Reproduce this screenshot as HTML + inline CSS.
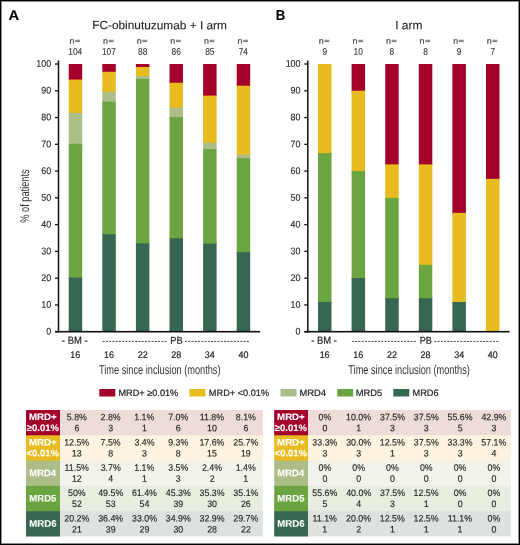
<!DOCTYPE html>
<html><head><meta charset="utf-8"><style>
html,body{margin:0;padding:0;background:#fff;}
body{width:520px;height:545px;position:relative;overflow:hidden;}
svg{position:absolute;left:0;top:0;font-family:"Liberation Sans",sans-serif;will-change:transform;}
.frame{position:absolute;left:0;top:0;width:520px;height:545px;box-sizing:border-box;border:1px solid #000;box-shadow:inset 0 0 0 1px rgba(0,0,0,0.45);}
</style></head><body>
<svg width="520" height="545" viewBox="0 0 520 545">
<rect x="75.15" y="39.80" width="4.90" height="0.90" fill="#666"/>
<rect x="75.15" y="41.20" width="4.90" height="0.90" fill="#666"/>
<rect x="68.70" y="64.00" width="13.50" height="16.53" fill="#A3002B"/>
<rect x="68.70" y="79.53" width="13.50" height="34.46" fill="#E8BC1E"/>
<rect x="68.70" y="112.99" width="13.50" height="31.79" fill="#ADBD88"/>
<rect x="68.70" y="143.77" width="13.50" height="134.85" fill="#6BA542"/>
<rect x="68.70" y="277.62" width="13.50" height="54.08" fill="#376651"/>
<rect x="108.75" y="39.80" width="4.90" height="0.90" fill="#666"/>
<rect x="108.75" y="41.20" width="4.90" height="0.90" fill="#666"/>
<rect x="102.30" y="64.00" width="13.50" height="8.76" fill="#A3002B"/>
<rect x="102.30" y="71.76" width="13.50" height="21.08" fill="#E8BC1E"/>
<rect x="102.30" y="91.84" width="13.50" height="10.90" fill="#ADBD88"/>
<rect x="102.30" y="101.75" width="13.50" height="133.51" fill="#6BA542"/>
<rect x="102.30" y="234.26" width="13.50" height="97.44" fill="#376651"/>
<rect x="142.35" y="39.80" width="4.90" height="0.90" fill="#666"/>
<rect x="142.35" y="41.20" width="4.90" height="0.90" fill="#666"/>
<rect x="135.90" y="64.00" width="13.50" height="3.94" fill="#A3002B"/>
<rect x="135.90" y="66.94" width="13.50" height="10.10" fill="#E8BC1E"/>
<rect x="135.90" y="76.05" width="13.50" height="3.94" fill="#ADBD88"/>
<rect x="135.90" y="78.99" width="13.50" height="165.37" fill="#6BA542"/>
<rect x="135.90" y="243.36" width="13.50" height="88.34" fill="#376651"/>
<rect x="175.95" y="39.80" width="4.90" height="0.90" fill="#666"/>
<rect x="175.95" y="41.20" width="4.90" height="0.90" fill="#666"/>
<rect x="169.50" y="64.00" width="13.50" height="19.74" fill="#A3002B"/>
<rect x="169.50" y="82.74" width="13.50" height="25.90" fill="#E8BC1E"/>
<rect x="169.50" y="107.64" width="13.50" height="10.37" fill="#ADBD88"/>
<rect x="169.50" y="117.00" width="13.50" height="122.27" fill="#6BA542"/>
<rect x="169.50" y="238.27" width="13.50" height="93.43" fill="#376651"/>
<rect x="209.55" y="39.80" width="4.90" height="0.90" fill="#666"/>
<rect x="209.55" y="41.20" width="4.90" height="0.90" fill="#666"/>
<rect x="203.10" y="64.00" width="13.50" height="32.59" fill="#A3002B"/>
<rect x="203.10" y="95.59" width="13.50" height="48.12" fill="#E8BC1E"/>
<rect x="203.10" y="142.70" width="13.50" height="7.42" fill="#ADBD88"/>
<rect x="203.10" y="149.13" width="13.50" height="95.50" fill="#6BA542"/>
<rect x="203.10" y="243.63" width="13.50" height="88.07" fill="#376651"/>
<rect x="243.15" y="39.80" width="4.90" height="0.90" fill="#666"/>
<rect x="243.15" y="41.20" width="4.90" height="0.90" fill="#666"/>
<rect x="236.70" y="64.00" width="13.50" height="22.68" fill="#A3002B"/>
<rect x="236.70" y="85.68" width="13.50" height="69.80" fill="#E8BC1E"/>
<rect x="236.70" y="154.48" width="13.50" height="4.75" fill="#ADBD88"/>
<rect x="236.70" y="158.23" width="13.50" height="94.96" fill="#6BA542"/>
<rect x="236.70" y="252.19" width="13.50" height="79.51" fill="#376651"/>
<rect x="57.75" y="60.50" width="1.50" height="272.00" fill="#111"/>
<rect x="55.00" y="330.90" width="205.20" height="1.60" fill="#111"/>
<rect x="55.00" y="331.05" width="3.00" height="1.30" fill="#111"/>
<rect x="55.00" y="304.28" width="3.00" height="1.30" fill="#111"/>
<rect x="55.00" y="277.51" width="3.00" height="1.30" fill="#111"/>
<rect x="55.00" y="250.74" width="3.00" height="1.30" fill="#111"/>
<rect x="55.00" y="223.97" width="3.00" height="1.30" fill="#111"/>
<rect x="55.00" y="197.20" width="3.00" height="1.30" fill="#111"/>
<rect x="55.00" y="170.43" width="3.00" height="1.30" fill="#111"/>
<rect x="55.00" y="143.66" width="3.00" height="1.30" fill="#111"/>
<rect x="55.00" y="116.89" width="3.00" height="1.30" fill="#111"/>
<rect x="55.00" y="90.12" width="3.00" height="1.30" fill="#111"/>
<rect x="55.00" y="63.35" width="3.00" height="1.30" fill="#111"/>
<rect x="102.60" y="340.90" width="2.00" height="1.10" fill="#555"/>
<rect x="184.95" y="340.90" width="2.00" height="1.10" fill="#555"/>
<rect x="105.86" y="340.90" width="2.00" height="1.10" fill="#555"/>
<rect x="188.21" y="340.90" width="2.00" height="1.10" fill="#555"/>
<rect x="109.12" y="340.90" width="2.00" height="1.10" fill="#555"/>
<rect x="191.47" y="340.90" width="2.00" height="1.10" fill="#555"/>
<rect x="112.38" y="340.90" width="2.00" height="1.10" fill="#555"/>
<rect x="194.73" y="340.90" width="2.00" height="1.10" fill="#555"/>
<rect x="115.64" y="340.90" width="2.00" height="1.10" fill="#555"/>
<rect x="197.99" y="340.90" width="2.00" height="1.10" fill="#555"/>
<rect x="118.90" y="340.90" width="2.00" height="1.10" fill="#555"/>
<rect x="201.25" y="340.90" width="2.00" height="1.10" fill="#555"/>
<rect x="122.16" y="340.90" width="2.00" height="1.10" fill="#555"/>
<rect x="204.51" y="340.90" width="2.00" height="1.10" fill="#555"/>
<rect x="125.42" y="340.90" width="2.00" height="1.10" fill="#555"/>
<rect x="207.77" y="340.90" width="2.00" height="1.10" fill="#555"/>
<rect x="128.68" y="340.90" width="2.00" height="1.10" fill="#555"/>
<rect x="211.03" y="340.90" width="2.00" height="1.10" fill="#555"/>
<rect x="131.94" y="340.90" width="2.00" height="1.10" fill="#555"/>
<rect x="214.29" y="340.90" width="2.00" height="1.10" fill="#555"/>
<rect x="135.20" y="340.90" width="2.00" height="1.10" fill="#555"/>
<rect x="217.55" y="340.90" width="2.00" height="1.10" fill="#555"/>
<rect x="138.46" y="340.90" width="2.00" height="1.10" fill="#555"/>
<rect x="220.81" y="340.90" width="2.00" height="1.10" fill="#555"/>
<rect x="141.72" y="340.90" width="2.00" height="1.10" fill="#555"/>
<rect x="224.07" y="340.90" width="2.00" height="1.10" fill="#555"/>
<rect x="144.98" y="340.90" width="2.00" height="1.10" fill="#555"/>
<rect x="227.33" y="340.90" width="2.00" height="1.10" fill="#555"/>
<rect x="148.24" y="340.90" width="2.00" height="1.10" fill="#555"/>
<rect x="230.59" y="340.90" width="2.00" height="1.10" fill="#555"/>
<rect x="151.50" y="340.90" width="2.00" height="1.10" fill="#555"/>
<rect x="233.85" y="340.90" width="2.00" height="1.10" fill="#555"/>
<rect x="154.76" y="340.90" width="2.00" height="1.10" fill="#555"/>
<rect x="237.11" y="340.90" width="2.00" height="1.10" fill="#555"/>
<rect x="158.02" y="340.90" width="2.00" height="1.10" fill="#555"/>
<rect x="240.37" y="340.90" width="2.00" height="1.10" fill="#555"/>
<rect x="161.28" y="340.90" width="2.00" height="1.10" fill="#555"/>
<rect x="243.63" y="340.90" width="2.00" height="1.10" fill="#555"/>
<rect x="164.54" y="340.90" width="2.00" height="1.10" fill="#555"/>
<rect x="246.89" y="340.90" width="2.00" height="1.10" fill="#555"/>
<rect x="324.45" y="39.80" width="4.90" height="0.90" fill="#666"/>
<rect x="324.45" y="41.20" width="4.90" height="0.90" fill="#666"/>
<rect x="318.00" y="64.00" width="13.50" height="90.14" fill="#E8BC1E"/>
<rect x="318.00" y="153.14" width="13.50" height="149.84" fill="#6BA542"/>
<rect x="318.00" y="301.99" width="13.50" height="29.71" fill="#376651"/>
<rect x="358.05" y="39.80" width="4.90" height="0.90" fill="#666"/>
<rect x="358.05" y="41.20" width="4.90" height="0.90" fill="#666"/>
<rect x="351.60" y="64.00" width="13.50" height="27.77" fill="#A3002B"/>
<rect x="351.60" y="90.77" width="13.50" height="81.31" fill="#E8BC1E"/>
<rect x="351.60" y="171.08" width="13.50" height="108.08" fill="#6BA542"/>
<rect x="351.60" y="278.16" width="13.50" height="53.54" fill="#376651"/>
<rect x="391.65" y="39.80" width="4.90" height="0.90" fill="#666"/>
<rect x="391.65" y="41.20" width="4.90" height="0.90" fill="#666"/>
<rect x="385.20" y="64.00" width="13.50" height="101.39" fill="#A3002B"/>
<rect x="385.20" y="164.39" width="13.50" height="34.46" fill="#E8BC1E"/>
<rect x="385.20" y="197.85" width="13.50" height="101.39" fill="#6BA542"/>
<rect x="385.20" y="298.24" width="13.50" height="33.46" fill="#376651"/>
<rect x="425.25" y="39.80" width="4.90" height="0.90" fill="#666"/>
<rect x="425.25" y="41.20" width="4.90" height="0.90" fill="#666"/>
<rect x="418.80" y="64.00" width="13.50" height="101.39" fill="#A3002B"/>
<rect x="418.80" y="164.39" width="13.50" height="101.39" fill="#E8BC1E"/>
<rect x="418.80" y="264.77" width="13.50" height="34.46" fill="#6BA542"/>
<rect x="418.80" y="298.24" width="13.50" height="33.46" fill="#376651"/>
<rect x="458.85" y="39.80" width="4.90" height="0.90" fill="#666"/>
<rect x="458.85" y="41.20" width="4.90" height="0.90" fill="#666"/>
<rect x="452.40" y="64.00" width="13.50" height="149.84" fill="#A3002B"/>
<rect x="452.40" y="212.84" width="13.50" height="90.14" fill="#E8BC1E"/>
<rect x="452.40" y="301.99" width="13.50" height="29.71" fill="#376651"/>
<rect x="492.45" y="39.80" width="4.90" height="0.90" fill="#666"/>
<rect x="492.45" y="41.20" width="4.90" height="0.90" fill="#666"/>
<rect x="486.00" y="64.00" width="13.50" height="115.84" fill="#A3002B"/>
<rect x="486.00" y="178.84" width="13.50" height="152.86" fill="#E8BC1E"/>
<rect x="307.05" y="60.50" width="1.50" height="272.00" fill="#111"/>
<rect x="304.30" y="330.90" width="205.20" height="1.60" fill="#111"/>
<rect x="304.30" y="331.05" width="3.00" height="1.30" fill="#111"/>
<rect x="304.30" y="304.28" width="3.00" height="1.30" fill="#111"/>
<rect x="304.30" y="277.51" width="3.00" height="1.30" fill="#111"/>
<rect x="304.30" y="250.74" width="3.00" height="1.30" fill="#111"/>
<rect x="304.30" y="223.97" width="3.00" height="1.30" fill="#111"/>
<rect x="304.30" y="197.20" width="3.00" height="1.30" fill="#111"/>
<rect x="304.30" y="170.43" width="3.00" height="1.30" fill="#111"/>
<rect x="304.30" y="143.66" width="3.00" height="1.30" fill="#111"/>
<rect x="304.30" y="116.89" width="3.00" height="1.30" fill="#111"/>
<rect x="304.30" y="90.12" width="3.00" height="1.30" fill="#111"/>
<rect x="304.30" y="63.35" width="3.00" height="1.30" fill="#111"/>
<rect x="351.90" y="340.90" width="2.00" height="1.10" fill="#555"/>
<rect x="434.25" y="340.90" width="2.00" height="1.10" fill="#555"/>
<rect x="355.16" y="340.90" width="2.00" height="1.10" fill="#555"/>
<rect x="437.51" y="340.90" width="2.00" height="1.10" fill="#555"/>
<rect x="358.42" y="340.90" width="2.00" height="1.10" fill="#555"/>
<rect x="440.77" y="340.90" width="2.00" height="1.10" fill="#555"/>
<rect x="361.68" y="340.90" width="2.00" height="1.10" fill="#555"/>
<rect x="444.03" y="340.90" width="2.00" height="1.10" fill="#555"/>
<rect x="364.94" y="340.90" width="2.00" height="1.10" fill="#555"/>
<rect x="447.29" y="340.90" width="2.00" height="1.10" fill="#555"/>
<rect x="368.20" y="340.90" width="2.00" height="1.10" fill="#555"/>
<rect x="450.55" y="340.90" width="2.00" height="1.10" fill="#555"/>
<rect x="371.46" y="340.90" width="2.00" height="1.10" fill="#555"/>
<rect x="453.81" y="340.90" width="2.00" height="1.10" fill="#555"/>
<rect x="374.72" y="340.90" width="2.00" height="1.10" fill="#555"/>
<rect x="457.07" y="340.90" width="2.00" height="1.10" fill="#555"/>
<rect x="377.98" y="340.90" width="2.00" height="1.10" fill="#555"/>
<rect x="460.33" y="340.90" width="2.00" height="1.10" fill="#555"/>
<rect x="381.24" y="340.90" width="2.00" height="1.10" fill="#555"/>
<rect x="463.59" y="340.90" width="2.00" height="1.10" fill="#555"/>
<rect x="384.50" y="340.90" width="2.00" height="1.10" fill="#555"/>
<rect x="466.85" y="340.90" width="2.00" height="1.10" fill="#555"/>
<rect x="387.76" y="340.90" width="2.00" height="1.10" fill="#555"/>
<rect x="470.11" y="340.90" width="2.00" height="1.10" fill="#555"/>
<rect x="391.02" y="340.90" width="2.00" height="1.10" fill="#555"/>
<rect x="473.37" y="340.90" width="2.00" height="1.10" fill="#555"/>
<rect x="394.28" y="340.90" width="2.00" height="1.10" fill="#555"/>
<rect x="476.63" y="340.90" width="2.00" height="1.10" fill="#555"/>
<rect x="397.54" y="340.90" width="2.00" height="1.10" fill="#555"/>
<rect x="479.89" y="340.90" width="2.00" height="1.10" fill="#555"/>
<rect x="400.80" y="340.90" width="2.00" height="1.10" fill="#555"/>
<rect x="483.15" y="340.90" width="2.00" height="1.10" fill="#555"/>
<rect x="404.06" y="340.90" width="2.00" height="1.10" fill="#555"/>
<rect x="486.41" y="340.90" width="2.00" height="1.10" fill="#555"/>
<rect x="407.32" y="340.90" width="2.00" height="1.10" fill="#555"/>
<rect x="489.67" y="340.90" width="2.00" height="1.10" fill="#555"/>
<rect x="410.58" y="340.90" width="2.00" height="1.10" fill="#555"/>
<rect x="492.93" y="340.90" width="2.00" height="1.10" fill="#555"/>
<rect x="413.84" y="340.90" width="2.00" height="1.10" fill="#555"/>
<rect x="496.19" y="340.90" width="2.00" height="1.10" fill="#555"/>
<rect x="99.30" y="389.00" width="16.00" height="7.50" fill="#A3002B"/>
<rect x="189.40" y="389.00" width="16.00" height="7.50" fill="#E8BC1E"/>
<rect x="280.50" y="389.00" width="16.00" height="7.50" fill="#ADBD88"/>
<rect x="337.20" y="389.00" width="16.00" height="7.50" fill="#6BA542"/>
<rect x="393.30" y="389.00" width="16.00" height="7.50" fill="#376651"/>
<rect x="26.00" y="410.00" width="34.00" height="26.30" fill="#A3002B"/>
<rect x="60.00" y="410.00" width="202.80" height="26.30" fill="#EDDCD7"/>
<rect x="26.00" y="435.30" width="34.00" height="26.30" fill="#E8BC1E"/>
<rect x="60.00" y="435.30" width="202.80" height="26.30" fill="#FCF4E0"/>
<rect x="26.00" y="460.60" width="34.00" height="26.30" fill="#ADBD88"/>
<rect x="60.00" y="460.60" width="202.80" height="26.30" fill="#F2F3EB"/>
<rect x="26.00" y="485.90" width="34.00" height="26.30" fill="#6BA542"/>
<rect x="60.00" y="485.90" width="202.80" height="26.30" fill="#E7EEE0"/>
<rect x="26.00" y="511.20" width="34.00" height="25.30" fill="#376651"/>
<rect x="60.00" y="511.20" width="202.80" height="25.30" fill="#DDE2DE"/>
<rect x="274.20" y="410.00" width="33.80" height="26.30" fill="#A3002B"/>
<rect x="308.00" y="410.00" width="202.80" height="26.30" fill="#EDDCD7"/>
<rect x="274.20" y="435.30" width="33.80" height="26.30" fill="#E8BC1E"/>
<rect x="308.00" y="435.30" width="202.80" height="26.30" fill="#FCF4E0"/>
<rect x="274.20" y="460.60" width="33.80" height="26.30" fill="#ADBD88"/>
<rect x="308.00" y="460.60" width="202.80" height="26.30" fill="#F2F3EB"/>
<rect x="274.20" y="485.90" width="33.80" height="26.30" fill="#6BA542"/>
<rect x="308.00" y="485.90" width="202.80" height="26.30" fill="#E7EEE0"/>
<rect x="274.20" y="511.20" width="33.80" height="25.30" fill="#376651"/>
<rect x="308.00" y="511.20" width="202.80" height="25.30" fill="#DDE2DE"/>
<text transform="translate(8.40,19.90) scale(1.0557,1) skewY(0.03)" font-size="14.00" fill="#000" font-weight="bold" stroke="#000" stroke-width="0.1">A</text>
<text transform="translate(92.15,29.10) scale(1.0103,1) skewY(0.03)" font-size="11.74" fill="#222" stroke="#222" stroke-width="0.1">FC-obinutuzumab + I arm</text>
<text transform="translate(69.52,43.80) scale(1.0405,1) skewY(0.03)" font-size="8.52" fill="#444" stroke="#444" stroke-width="0.2">n</text>
<text transform="translate(68.30,54.72) scale(0.8700,1) skewY(0.03)" font-size="9.60" fill="#333" stroke="#333" stroke-width="0.1">104</text>
<text transform="translate(103.12,43.80) scale(1.0405,1) skewY(0.03)" font-size="8.52" fill="#444" stroke="#444" stroke-width="0.2">n</text>
<text transform="translate(101.98,54.72) scale(0.8700,1) skewY(0.03)" font-size="9.60" fill="#333" stroke="#333" stroke-width="0.1">107</text>
<text transform="translate(136.72,43.80) scale(1.0405,1) skewY(0.03)" font-size="8.52" fill="#444" stroke="#444" stroke-width="0.2">n</text>
<text transform="translate(137.99,54.72) scale(0.8700,1) skewY(0.03)" font-size="9.60" fill="#333" stroke="#333" stroke-width="0.1">88</text>
<text transform="translate(170.32,43.80) scale(1.0405,1) skewY(0.03)" font-size="8.52" fill="#444" stroke="#444" stroke-width="0.2">n</text>
<text transform="translate(171.59,54.72) scale(0.8700,1) skewY(0.03)" font-size="9.60" fill="#333" stroke="#333" stroke-width="0.1">86</text>
<text transform="translate(203.92,43.80) scale(1.0405,1) skewY(0.03)" font-size="8.52" fill="#444" stroke="#444" stroke-width="0.2">n</text>
<text transform="translate(205.19,54.72) scale(0.8700,1) skewY(0.03)" font-size="9.60" fill="#333" stroke="#333" stroke-width="0.1">85</text>
<text transform="translate(237.52,43.80) scale(1.0405,1) skewY(0.03)" font-size="8.52" fill="#444" stroke="#444" stroke-width="0.2">n</text>
<text transform="translate(238.71,54.72) scale(0.8700,1) skewY(0.03)" font-size="9.60" fill="#333" stroke="#333" stroke-width="0.1">74</text>
<text transform="translate(46.26,334.52) scale(0.9300,1) skewY(0.03)" font-size="9.60" fill="#222" stroke="#222" stroke-width="0.1">0</text>
<text transform="translate(41.29,307.75) scale(0.9300,1) skewY(0.03)" font-size="9.60" fill="#222" stroke="#222" stroke-width="0.1">10</text>
<text transform="translate(41.29,280.98) scale(0.9300,1) skewY(0.03)" font-size="9.60" fill="#222" stroke="#222" stroke-width="0.1">20</text>
<text transform="translate(41.29,254.21) scale(0.9300,1) skewY(0.03)" font-size="9.60" fill="#222" stroke="#222" stroke-width="0.1">30</text>
<text transform="translate(41.29,227.44) scale(0.9300,1) skewY(0.03)" font-size="9.60" fill="#222" stroke="#222" stroke-width="0.1">40</text>
<text transform="translate(41.29,200.67) scale(0.9300,1) skewY(0.03)" font-size="9.60" fill="#222" stroke="#222" stroke-width="0.1">50</text>
<text transform="translate(41.29,173.90) scale(0.9300,1) skewY(0.03)" font-size="9.60" fill="#222" stroke="#222" stroke-width="0.1">60</text>
<text transform="translate(41.29,147.13) scale(0.9300,1) skewY(0.03)" font-size="9.60" fill="#222" stroke="#222" stroke-width="0.1">70</text>
<text transform="translate(41.29,120.36) scale(0.9300,1) skewY(0.03)" font-size="9.60" fill="#222" stroke="#222" stroke-width="0.1">80</text>
<text transform="translate(41.29,93.59) scale(0.9300,1) skewY(0.03)" font-size="9.60" fill="#222" stroke="#222" stroke-width="0.1">90</text>
<text transform="translate(36.33,66.82) scale(0.9300,1) skewY(0.03)" font-size="9.60" fill="#222" stroke="#222" stroke-width="0.1">100</text>
<text transform="translate(61.87,343.81) scale(0.9200,1) skewY(0.03)" font-size="10.30" fill="#222" stroke="#222" stroke-width="0.2">- BM -</text>
<text transform="translate(70.33,357.92) scale(0.9300,1) skewY(0.03)" font-size="9.60" fill="#222" stroke="#222" stroke-width="0.2">16</text>
<text transform="translate(103.93,357.92) scale(0.9300,1) skewY(0.03)" font-size="9.60" fill="#222" stroke="#222" stroke-width="0.2">16</text>
<text transform="translate(137.67,357.92) scale(0.9300,1) skewY(0.03)" font-size="9.60" fill="#222" stroke="#222" stroke-width="0.2">22</text>
<text transform="translate(171.22,357.92) scale(0.9300,1) skewY(0.03)" font-size="9.60" fill="#222" stroke="#222" stroke-width="0.2">28</text>
<text transform="translate(204.87,357.92) scale(0.9300,1) skewY(0.03)" font-size="9.60" fill="#222" stroke="#222" stroke-width="0.2">34</text>
<text transform="translate(238.56,357.92) scale(0.9300,1) skewY(0.03)" font-size="9.60" fill="#222" stroke="#222" stroke-width="0.2">40</text>
<text transform="translate(170.36,343.80) scale(0.9200,1) skewY(0.03)" font-size="10.00" fill="#222" stroke="#222" stroke-width="0.2">PB</text>
<text transform="translate(99.02,374.00) scale(0.7239,1) skewY(0.03)" font-size="12.75" fill="#333">Time since inclusion (months)</text>
<text transform="translate(28.90,222.78) rotate(-90) scale(0.7338,1) skewY(0.03)" font-size="12.60" fill="#333">% of patients</text>
<text transform="translate(275.71,20.00) scale(0.9126,1) skewY(0.03)" font-size="14.49" fill="#000" font-weight="bold" stroke="#000" stroke-width="0.1">B</text>
<text transform="translate(395.22,29.20) scale(1.0059,1) skewY(0.03)" font-size="11.88" fill="#222" stroke="#222" stroke-width="0.1">I arm</text>
<text transform="translate(318.82,43.80) scale(1.0405,1) skewY(0.03)" font-size="8.52" fill="#444" stroke="#444" stroke-width="0.2">n</text>
<text transform="translate(322.45,54.72) scale(0.8700,1) skewY(0.03)" font-size="9.60" fill="#333" stroke="#333" stroke-width="0.1">9</text>
<text transform="translate(352.42,43.80) scale(1.0405,1) skewY(0.03)" font-size="8.52" fill="#444" stroke="#444" stroke-width="0.2">n</text>
<text transform="translate(353.56,54.72) scale(0.8700,1) skewY(0.03)" font-size="9.60" fill="#333" stroke="#333" stroke-width="0.1">10</text>
<text transform="translate(386.02,43.80) scale(1.0405,1) skewY(0.03)" font-size="8.52" fill="#444" stroke="#444" stroke-width="0.2">n</text>
<text transform="translate(389.61,54.72) scale(0.8700,1) skewY(0.03)" font-size="9.60" fill="#333" stroke="#333" stroke-width="0.1">8</text>
<text transform="translate(419.62,43.80) scale(1.0405,1) skewY(0.03)" font-size="8.52" fill="#444" stroke="#444" stroke-width="0.2">n</text>
<text transform="translate(423.21,54.72) scale(0.8700,1) skewY(0.03)" font-size="9.60" fill="#333" stroke="#333" stroke-width="0.1">8</text>
<text transform="translate(453.22,43.80) scale(1.0405,1) skewY(0.03)" font-size="8.52" fill="#444" stroke="#444" stroke-width="0.2">n</text>
<text transform="translate(456.85,54.72) scale(0.8700,1) skewY(0.03)" font-size="9.60" fill="#333" stroke="#333" stroke-width="0.1">9</text>
<text transform="translate(486.82,43.80) scale(1.0405,1) skewY(0.03)" font-size="8.52" fill="#444" stroke="#444" stroke-width="0.2">n</text>
<text transform="translate(490.41,54.72) scale(0.8700,1) skewY(0.03)" font-size="9.60" fill="#333" stroke="#333" stroke-width="0.1">7</text>
<text transform="translate(295.56,334.52) scale(0.9300,1) skewY(0.03)" font-size="9.60" fill="#222" stroke="#222" stroke-width="0.1">0</text>
<text transform="translate(290.59,307.75) scale(0.9300,1) skewY(0.03)" font-size="9.60" fill="#222" stroke="#222" stroke-width="0.1">10</text>
<text transform="translate(290.59,280.98) scale(0.9300,1) skewY(0.03)" font-size="9.60" fill="#222" stroke="#222" stroke-width="0.1">20</text>
<text transform="translate(290.59,254.21) scale(0.9300,1) skewY(0.03)" font-size="9.60" fill="#222" stroke="#222" stroke-width="0.1">30</text>
<text transform="translate(290.59,227.44) scale(0.9300,1) skewY(0.03)" font-size="9.60" fill="#222" stroke="#222" stroke-width="0.1">40</text>
<text transform="translate(290.59,200.67) scale(0.9300,1) skewY(0.03)" font-size="9.60" fill="#222" stroke="#222" stroke-width="0.1">50</text>
<text transform="translate(290.59,173.90) scale(0.9300,1) skewY(0.03)" font-size="9.60" fill="#222" stroke="#222" stroke-width="0.1">60</text>
<text transform="translate(290.59,147.13) scale(0.9300,1) skewY(0.03)" font-size="9.60" fill="#222" stroke="#222" stroke-width="0.1">70</text>
<text transform="translate(290.59,120.36) scale(0.9300,1) skewY(0.03)" font-size="9.60" fill="#222" stroke="#222" stroke-width="0.1">80</text>
<text transform="translate(290.59,93.59) scale(0.9300,1) skewY(0.03)" font-size="9.60" fill="#222" stroke="#222" stroke-width="0.1">90</text>
<text transform="translate(285.63,66.82) scale(0.9300,1) skewY(0.03)" font-size="9.60" fill="#222" stroke="#222" stroke-width="0.1">100</text>
<text transform="translate(311.17,343.81) scale(0.9200,1) skewY(0.03)" font-size="10.30" fill="#222" stroke="#222" stroke-width="0.2">- BM -</text>
<text transform="translate(319.63,357.92) scale(0.9300,1) skewY(0.03)" font-size="9.60" fill="#222" stroke="#222" stroke-width="0.2">16</text>
<text transform="translate(353.23,357.92) scale(0.9300,1) skewY(0.03)" font-size="9.60" fill="#222" stroke="#222" stroke-width="0.2">16</text>
<text transform="translate(386.97,357.92) scale(0.9300,1) skewY(0.03)" font-size="9.60" fill="#222" stroke="#222" stroke-width="0.2">22</text>
<text transform="translate(420.52,357.92) scale(0.9300,1) skewY(0.03)" font-size="9.60" fill="#222" stroke="#222" stroke-width="0.2">28</text>
<text transform="translate(454.17,357.92) scale(0.9300,1) skewY(0.03)" font-size="9.60" fill="#222" stroke="#222" stroke-width="0.2">34</text>
<text transform="translate(487.86,357.92) scale(0.9300,1) skewY(0.03)" font-size="9.60" fill="#222" stroke="#222" stroke-width="0.2">40</text>
<text transform="translate(419.66,343.80) scale(0.9200,1) skewY(0.03)" font-size="10.00" fill="#222" stroke="#222" stroke-width="0.2">PB</text>
<text transform="translate(348.32,374.00) scale(0.7239,1) skewY(0.03)" font-size="12.75" fill="#333">Time since inclusion (months)</text>
<text transform="translate(118.47,396.00) scale(0.9883,1) skewY(0.03)" font-size="9.28" fill="#222" stroke="#222" stroke-width="0.2">MRD+ ≥0.01%</text>
<text transform="translate(208.86,396.00) scale(0.9913,1) skewY(0.03)" font-size="9.28" fill="#222" stroke="#222" stroke-width="0.2">MRD+ &lt;0.01%</text>
<text transform="translate(299.45,396.00) scale(1.0120,1) skewY(0.03)" font-size="9.28" fill="#222" stroke="#222" stroke-width="0.2">MRD4</text>
<text transform="translate(355.75,396.00) scale(1.0117,1) skewY(0.03)" font-size="9.28" fill="#222" stroke="#222" stroke-width="0.2">MRD5</text>
<text transform="translate(412.56,396.00) scale(0.9919,1) skewY(0.03)" font-size="9.28" fill="#222" stroke="#222" stroke-width="0.2">MRD6</text>
<text transform="translate(29.02,420.10) scale(1.0233,1) skewY(0.03)" font-size="9.43" fill="#fff" font-weight="bold" stroke="#fff" stroke-width="0.1">MRD+</text>
<text transform="translate(26.71,430.90) scale(1.0114,1) skewY(0.03)" font-size="9.43" fill="#fff" font-weight="bold" stroke="#fff" stroke-width="0.1">≥0.01%</text>
<text transform="translate(66.78,420.21) scale(0.9500,1) skewY(0.03)" font-size="9.30" fill="#222" stroke="#222" stroke-width="0.12">5.8%</text>
<text transform="translate(74.38,431.21) scale(0.9500,1) skewY(0.03)" font-size="9.30" fill="#222" stroke="#222" stroke-width="0.12">6</text>
<text transform="translate(100.54,420.21) scale(0.9500,1) skewY(0.03)" font-size="9.30" fill="#222" stroke="#222" stroke-width="0.12">2.8%</text>
<text transform="translate(108.27,431.21) scale(0.9500,1) skewY(0.03)" font-size="9.30" fill="#222" stroke="#222" stroke-width="0.12">3</text>
<text transform="translate(134.25,420.21) scale(0.9500,1) skewY(0.03)" font-size="9.30" fill="#222" stroke="#222" stroke-width="0.12">1.1%</text>
<text transform="translate(141.94,431.21) scale(0.9500,1) skewY(0.03)" font-size="9.30" fill="#222" stroke="#222" stroke-width="0.12">1</text>
<text transform="translate(168.14,420.21) scale(0.9500,1) skewY(0.03)" font-size="9.30" fill="#222" stroke="#222" stroke-width="0.12">7.0%</text>
<text transform="translate(175.78,431.21) scale(0.9500,1) skewY(0.03)" font-size="9.30" fill="#222" stroke="#222" stroke-width="0.12">6</text>
<text transform="translate(199.72,420.21) scale(0.9500,1) skewY(0.03)" font-size="9.30" fill="#222" stroke="#222" stroke-width="0.12">11.8%</text>
<text transform="translate(207.04,431.21) scale(0.9500,1) skewY(0.03)" font-size="9.30" fill="#222" stroke="#222" stroke-width="0.12">10</text>
<text transform="translate(235.78,420.21) scale(0.9500,1) skewY(0.03)" font-size="9.30" fill="#222" stroke="#222" stroke-width="0.12">8.1%</text>
<text transform="translate(243.38,431.21) scale(0.9500,1) skewY(0.03)" font-size="9.30" fill="#222" stroke="#222" stroke-width="0.12">6</text>
<text transform="translate(29.02,445.40) scale(1.0233,1) skewY(0.03)" font-size="9.43" fill="#fff" font-weight="bold" stroke="#fff" stroke-width="0.1">MRD+</text>
<text transform="translate(26.52,456.20) scale(1.0069,1) skewY(0.03)" font-size="9.43" fill="#fff" font-weight="bold" stroke="#fff" stroke-width="0.1">&lt;0.01%</text>
<text transform="translate(64.19,445.51) scale(0.9500,1) skewY(0.03)" font-size="9.30" fill="#222" stroke="#222" stroke-width="0.12">12.5%</text>
<text transform="translate(71.84,456.51) scale(0.9500,1) skewY(0.03)" font-size="9.30" fill="#222" stroke="#222" stroke-width="0.12">13</text>
<text transform="translate(100.54,445.51) scale(0.9500,1) skewY(0.03)" font-size="9.30" fill="#222" stroke="#222" stroke-width="0.12">7.5%</text>
<text transform="translate(108.23,456.51) scale(0.9500,1) skewY(0.03)" font-size="9.30" fill="#222" stroke="#222" stroke-width="0.12">8</text>
<text transform="translate(134.43,445.51) scale(0.9500,1) skewY(0.03)" font-size="9.30" fill="#222" stroke="#222" stroke-width="0.12">3.4%</text>
<text transform="translate(142.07,456.51) scale(0.9500,1) skewY(0.03)" font-size="9.30" fill="#222" stroke="#222" stroke-width="0.12">3</text>
<text transform="translate(168.18,445.51) scale(0.9500,1) skewY(0.03)" font-size="9.30" fill="#222" stroke="#222" stroke-width="0.12">9.3%</text>
<text transform="translate(175.83,456.51) scale(0.9500,1) skewY(0.03)" font-size="9.30" fill="#222" stroke="#222" stroke-width="0.12">8</text>
<text transform="translate(199.39,445.51) scale(0.9500,1) skewY(0.03)" font-size="9.30" fill="#222" stroke="#222" stroke-width="0.12">17.6%</text>
<text transform="translate(207.04,456.51) scale(0.9500,1) skewY(0.03)" font-size="9.30" fill="#222" stroke="#222" stroke-width="0.12">15</text>
<text transform="translate(233.28,445.51) scale(0.9500,1) skewY(0.03)" font-size="9.30" fill="#222" stroke="#222" stroke-width="0.12">25.7%</text>
<text transform="translate(240.88,456.51) scale(0.9500,1) skewY(0.03)" font-size="9.30" fill="#222" stroke="#222" stroke-width="0.12">19</text>
<text transform="translate(29.23,476.20) scale(0.9931,1) skewY(0.03)" font-size="9.57" fill="#fff" font-weight="bold" stroke="#fff" stroke-width="0.1">MRD4</text>
<text transform="translate(64.52,470.81) scale(0.9500,1) skewY(0.03)" font-size="9.30" fill="#222" stroke="#222" stroke-width="0.12">11.5%</text>
<text transform="translate(71.88,481.81) scale(0.9500,1) skewY(0.03)" font-size="9.30" fill="#222" stroke="#222" stroke-width="0.12">12</text>
<text transform="translate(100.63,470.81) scale(0.9500,1) skewY(0.03)" font-size="9.30" fill="#222" stroke="#222" stroke-width="0.12">3.7%</text>
<text transform="translate(108.27,481.81) scale(0.9500,1) skewY(0.03)" font-size="9.30" fill="#222" stroke="#222" stroke-width="0.12">4</text>
<text transform="translate(134.25,470.81) scale(0.9500,1) skewY(0.03)" font-size="9.30" fill="#222" stroke="#222" stroke-width="0.12">1.1%</text>
<text transform="translate(141.94,481.81) scale(0.9500,1) skewY(0.03)" font-size="9.30" fill="#222" stroke="#222" stroke-width="0.12">1</text>
<text transform="translate(168.23,470.81) scale(0.9500,1) skewY(0.03)" font-size="9.30" fill="#222" stroke="#222" stroke-width="0.12">3.5%</text>
<text transform="translate(175.87,481.81) scale(0.9500,1) skewY(0.03)" font-size="9.30" fill="#222" stroke="#222" stroke-width="0.12">3</text>
<text transform="translate(201.94,470.81) scale(0.9500,1) skewY(0.03)" font-size="9.30" fill="#222" stroke="#222" stroke-width="0.12">2.4%</text>
<text transform="translate(209.63,481.81) scale(0.9500,1) skewY(0.03)" font-size="9.30" fill="#222" stroke="#222" stroke-width="0.12">2</text>
<text transform="translate(235.65,470.81) scale(0.9500,1) skewY(0.03)" font-size="9.30" fill="#222" stroke="#222" stroke-width="0.12">1.4%</text>
<text transform="translate(243.34,481.81) scale(0.9500,1) skewY(0.03)" font-size="9.30" fill="#222" stroke="#222" stroke-width="0.12">1</text>
<text transform="translate(29.22,501.50) scale(1.0040,1) skewY(0.03)" font-size="9.57" fill="#fff" font-weight="bold" stroke="#fff" stroke-width="0.1">MRD5</text>
<text transform="translate(68.01,496.11) scale(0.9500,1) skewY(0.03)" font-size="9.30" fill="#222" stroke="#222" stroke-width="0.12">50%</text>
<text transform="translate(72.01,507.11) scale(0.9500,1) skewY(0.03)" font-size="9.30" fill="#222" stroke="#222" stroke-width="0.12">52</text>
<text transform="translate(98.21,496.11) scale(0.9500,1) skewY(0.03)" font-size="9.30" fill="#222" stroke="#222" stroke-width="0.12">49.5%</text>
<text transform="translate(105.77,507.11) scale(0.9500,1) skewY(0.03)" font-size="9.30" fill="#222" stroke="#222" stroke-width="0.12">53</text>
<text transform="translate(131.88,496.11) scale(0.9500,1) skewY(0.03)" font-size="9.30" fill="#222" stroke="#222" stroke-width="0.12">61.4%</text>
<text transform="translate(139.53,507.11) scale(0.9500,1) skewY(0.03)" font-size="9.30" fill="#222" stroke="#222" stroke-width="0.12">54</text>
<text transform="translate(165.81,496.11) scale(0.9500,1) skewY(0.03)" font-size="9.30" fill="#222" stroke="#222" stroke-width="0.12">45.3%</text>
<text transform="translate(173.46,507.11) scale(0.9500,1) skewY(0.03)" font-size="9.30" fill="#222" stroke="#222" stroke-width="0.12">39</text>
<text transform="translate(199.57,496.11) scale(0.9500,1) skewY(0.03)" font-size="9.30" fill="#222" stroke="#222" stroke-width="0.12">35.3%</text>
<text transform="translate(207.21,507.11) scale(0.9500,1) skewY(0.03)" font-size="9.30" fill="#222" stroke="#222" stroke-width="0.12">30</text>
<text transform="translate(233.37,496.11) scale(0.9500,1) skewY(0.03)" font-size="9.30" fill="#222" stroke="#222" stroke-width="0.12">35.1%</text>
<text transform="translate(240.93,507.11) scale(0.9500,1) skewY(0.03)" font-size="9.30" fill="#222" stroke="#222" stroke-width="0.12">26</text>
<text transform="translate(29.22,526.80) scale(1.0076,1) skewY(0.03)" font-size="9.57" fill="#fff" font-weight="bold" stroke="#fff" stroke-width="0.1">MRD6</text>
<text transform="translate(64.28,521.41) scale(0.9500,1) skewY(0.03)" font-size="9.30" fill="#222" stroke="#222" stroke-width="0.12">20.2%</text>
<text transform="translate(71.97,532.41) scale(0.9500,1) skewY(0.03)" font-size="9.30" fill="#222" stroke="#222" stroke-width="0.12">21</text>
<text transform="translate(98.17,521.41) scale(0.9500,1) skewY(0.03)" font-size="9.30" fill="#222" stroke="#222" stroke-width="0.12">36.4%</text>
<text transform="translate(105.86,532.41) scale(0.9500,1) skewY(0.03)" font-size="9.30" fill="#222" stroke="#222" stroke-width="0.12">39</text>
<text transform="translate(131.97,521.41) scale(0.9500,1) skewY(0.03)" font-size="9.30" fill="#222" stroke="#222" stroke-width="0.12">33.0%</text>
<text transform="translate(139.57,532.41) scale(0.9500,1) skewY(0.03)" font-size="9.30" fill="#222" stroke="#222" stroke-width="0.12">29</text>
<text transform="translate(165.77,521.41) scale(0.9500,1) skewY(0.03)" font-size="9.30" fill="#222" stroke="#222" stroke-width="0.12">34.9%</text>
<text transform="translate(173.41,532.41) scale(0.9500,1) skewY(0.03)" font-size="9.30" fill="#222" stroke="#222" stroke-width="0.12">30</text>
<text transform="translate(199.57,521.41) scale(0.9500,1) skewY(0.03)" font-size="9.30" fill="#222" stroke="#222" stroke-width="0.12">32.9%</text>
<text transform="translate(207.13,532.41) scale(0.9500,1) skewY(0.03)" font-size="9.30" fill="#222" stroke="#222" stroke-width="0.12">28</text>
<text transform="translate(233.28,521.41) scale(0.9500,1) skewY(0.03)" font-size="9.30" fill="#222" stroke="#222" stroke-width="0.12">29.7%</text>
<text transform="translate(240.97,532.41) scale(0.9500,1) skewY(0.03)" font-size="9.30" fill="#222" stroke="#222" stroke-width="0.12">22</text>
<text transform="translate(277.12,420.10) scale(1.0233,1) skewY(0.03)" font-size="9.43" fill="#fff" font-weight="bold" stroke="#fff" stroke-width="0.1">MRD+</text>
<text transform="translate(274.81,430.90) scale(1.0114,1) skewY(0.03)" font-size="9.43" fill="#fff" font-weight="bold" stroke="#fff" stroke-width="0.1">≥0.01%</text>
<text transform="translate(318.51,420.21) scale(0.9500,1) skewY(0.03)" font-size="9.30" fill="#222" stroke="#222" stroke-width="0.12">0%</text>
<text transform="translate(322.47,431.21) scale(0.9500,1) skewY(0.03)" font-size="9.30" fill="#222" stroke="#222" stroke-width="0.12">0</text>
<text transform="translate(345.99,420.21) scale(0.9500,1) skewY(0.03)" font-size="9.30" fill="#222" stroke="#222" stroke-width="0.12">10.0%</text>
<text transform="translate(356.14,431.21) scale(0.9500,1) skewY(0.03)" font-size="9.30" fill="#222" stroke="#222" stroke-width="0.12">1</text>
<text transform="translate(379.97,420.21) scale(0.9500,1) skewY(0.03)" font-size="9.30" fill="#222" stroke="#222" stroke-width="0.12">37.5%</text>
<text transform="translate(390.07,431.21) scale(0.9500,1) skewY(0.03)" font-size="9.30" fill="#222" stroke="#222" stroke-width="0.12">3</text>
<text transform="translate(413.77,420.21) scale(0.9500,1) skewY(0.03)" font-size="9.30" fill="#222" stroke="#222" stroke-width="0.12">37.5%</text>
<text transform="translate(423.87,431.21) scale(0.9500,1) skewY(0.03)" font-size="9.30" fill="#222" stroke="#222" stroke-width="0.12">3</text>
<text transform="translate(447.53,420.21) scale(0.9500,1) skewY(0.03)" font-size="9.30" fill="#222" stroke="#222" stroke-width="0.12">55.6%</text>
<text transform="translate(457.63,431.21) scale(0.9500,1) skewY(0.03)" font-size="9.30" fill="#222" stroke="#222" stroke-width="0.12">5</text>
<text transform="translate(481.41,420.21) scale(0.9500,1) skewY(0.03)" font-size="9.30" fill="#222" stroke="#222" stroke-width="0.12">42.9%</text>
<text transform="translate(491.47,431.21) scale(0.9500,1) skewY(0.03)" font-size="9.30" fill="#222" stroke="#222" stroke-width="0.12">3</text>
<text transform="translate(277.12,445.40) scale(1.0233,1) skewY(0.03)" font-size="9.43" fill="#fff" font-weight="bold" stroke="#fff" stroke-width="0.1">MRD+</text>
<text transform="translate(274.62,456.20) scale(1.0069,1) skewY(0.03)" font-size="9.43" fill="#fff" font-weight="bold" stroke="#fff" stroke-width="0.1">&lt;0.01%</text>
<text transform="translate(312.37,445.51) scale(0.9500,1) skewY(0.03)" font-size="9.30" fill="#222" stroke="#222" stroke-width="0.12">33.3%</text>
<text transform="translate(322.47,456.51) scale(0.9500,1) skewY(0.03)" font-size="9.30" fill="#222" stroke="#222" stroke-width="0.12">3</text>
<text transform="translate(346.17,445.51) scale(0.9500,1) skewY(0.03)" font-size="9.30" fill="#222" stroke="#222" stroke-width="0.12">30.0%</text>
<text transform="translate(356.27,456.51) scale(0.9500,1) skewY(0.03)" font-size="9.30" fill="#222" stroke="#222" stroke-width="0.12">3</text>
<text transform="translate(379.79,445.51) scale(0.9500,1) skewY(0.03)" font-size="9.30" fill="#222" stroke="#222" stroke-width="0.12">12.5%</text>
<text transform="translate(389.94,456.51) scale(0.9500,1) skewY(0.03)" font-size="9.30" fill="#222" stroke="#222" stroke-width="0.12">1</text>
<text transform="translate(413.77,445.51) scale(0.9500,1) skewY(0.03)" font-size="9.30" fill="#222" stroke="#222" stroke-width="0.12">37.5%</text>
<text transform="translate(423.87,456.51) scale(0.9500,1) skewY(0.03)" font-size="9.30" fill="#222" stroke="#222" stroke-width="0.12">3</text>
<text transform="translate(447.57,445.51) scale(0.9500,1) skewY(0.03)" font-size="9.30" fill="#222" stroke="#222" stroke-width="0.12">33.3%</text>
<text transform="translate(457.67,456.51) scale(0.9500,1) skewY(0.03)" font-size="9.30" fill="#222" stroke="#222" stroke-width="0.12">3</text>
<text transform="translate(481.33,445.51) scale(0.9500,1) skewY(0.03)" font-size="9.30" fill="#222" stroke="#222" stroke-width="0.12">57.1%</text>
<text transform="translate(491.47,456.51) scale(0.9500,1) skewY(0.03)" font-size="9.30" fill="#222" stroke="#222" stroke-width="0.12">4</text>
<text transform="translate(277.33,476.20) scale(0.9931,1) skewY(0.03)" font-size="9.57" fill="#fff" font-weight="bold" stroke="#fff" stroke-width="0.1">MRD4</text>
<text transform="translate(318.51,470.81) scale(0.9500,1) skewY(0.03)" font-size="9.30" fill="#222" stroke="#222" stroke-width="0.12">0%</text>
<text transform="translate(322.47,481.81) scale(0.9500,1) skewY(0.03)" font-size="9.30" fill="#222" stroke="#222" stroke-width="0.12">0</text>
<text transform="translate(352.31,470.81) scale(0.9500,1) skewY(0.03)" font-size="9.30" fill="#222" stroke="#222" stroke-width="0.12">0%</text>
<text transform="translate(356.27,481.81) scale(0.9500,1) skewY(0.03)" font-size="9.30" fill="#222" stroke="#222" stroke-width="0.12">0</text>
<text transform="translate(386.11,470.81) scale(0.9500,1) skewY(0.03)" font-size="9.30" fill="#222" stroke="#222" stroke-width="0.12">0%</text>
<text transform="translate(390.07,481.81) scale(0.9500,1) skewY(0.03)" font-size="9.30" fill="#222" stroke="#222" stroke-width="0.12">0</text>
<text transform="translate(419.91,470.81) scale(0.9500,1) skewY(0.03)" font-size="9.30" fill="#222" stroke="#222" stroke-width="0.12">0%</text>
<text transform="translate(423.87,481.81) scale(0.9500,1) skewY(0.03)" font-size="9.30" fill="#222" stroke="#222" stroke-width="0.12">0</text>
<text transform="translate(453.71,470.81) scale(0.9500,1) skewY(0.03)" font-size="9.30" fill="#222" stroke="#222" stroke-width="0.12">0%</text>
<text transform="translate(457.67,481.81) scale(0.9500,1) skewY(0.03)" font-size="9.30" fill="#222" stroke="#222" stroke-width="0.12">0</text>
<text transform="translate(487.51,470.81) scale(0.9500,1) skewY(0.03)" font-size="9.30" fill="#222" stroke="#222" stroke-width="0.12">0%</text>
<text transform="translate(491.47,481.81) scale(0.9500,1) skewY(0.03)" font-size="9.30" fill="#222" stroke="#222" stroke-width="0.12">0</text>
<text transform="translate(277.32,501.50) scale(1.0040,1) skewY(0.03)" font-size="9.57" fill="#fff" font-weight="bold" stroke="#fff" stroke-width="0.1">MRD5</text>
<text transform="translate(312.33,496.11) scale(0.9500,1) skewY(0.03)" font-size="9.30" fill="#222" stroke="#222" stroke-width="0.12">55.6%</text>
<text transform="translate(322.43,507.11) scale(0.9500,1) skewY(0.03)" font-size="9.30" fill="#222" stroke="#222" stroke-width="0.12">5</text>
<text transform="translate(346.21,496.11) scale(0.9500,1) skewY(0.03)" font-size="9.30" fill="#222" stroke="#222" stroke-width="0.12">40.0%</text>
<text transform="translate(356.27,507.11) scale(0.9500,1) skewY(0.03)" font-size="9.30" fill="#222" stroke="#222" stroke-width="0.12">4</text>
<text transform="translate(379.97,496.11) scale(0.9500,1) skewY(0.03)" font-size="9.30" fill="#222" stroke="#222" stroke-width="0.12">37.5%</text>
<text transform="translate(390.07,507.11) scale(0.9500,1) skewY(0.03)" font-size="9.30" fill="#222" stroke="#222" stroke-width="0.12">3</text>
<text transform="translate(413.59,496.11) scale(0.9500,1) skewY(0.03)" font-size="9.30" fill="#222" stroke="#222" stroke-width="0.12">12.5%</text>
<text transform="translate(423.74,507.11) scale(0.9500,1) skewY(0.03)" font-size="9.30" fill="#222" stroke="#222" stroke-width="0.12">1</text>
<text transform="translate(453.71,496.11) scale(0.9500,1) skewY(0.03)" font-size="9.30" fill="#222" stroke="#222" stroke-width="0.12">0%</text>
<text transform="translate(457.67,507.11) scale(0.9500,1) skewY(0.03)" font-size="9.30" fill="#222" stroke="#222" stroke-width="0.12">0</text>
<text transform="translate(487.51,496.11) scale(0.9500,1) skewY(0.03)" font-size="9.30" fill="#222" stroke="#222" stroke-width="0.12">0%</text>
<text transform="translate(491.47,507.11) scale(0.9500,1) skewY(0.03)" font-size="9.30" fill="#222" stroke="#222" stroke-width="0.12">0</text>
<text transform="translate(277.32,526.80) scale(1.0076,1) skewY(0.03)" font-size="9.57" fill="#fff" font-weight="bold" stroke="#fff" stroke-width="0.1">MRD6</text>
<text transform="translate(312.52,521.41) scale(0.9500,1) skewY(0.03)" font-size="9.30" fill="#222" stroke="#222" stroke-width="0.12">11.1%</text>
<text transform="translate(322.34,532.41) scale(0.9500,1) skewY(0.03)" font-size="9.30" fill="#222" stroke="#222" stroke-width="0.12">1</text>
<text transform="translate(346.08,521.41) scale(0.9500,1) skewY(0.03)" font-size="9.30" fill="#222" stroke="#222" stroke-width="0.12">20.0%</text>
<text transform="translate(356.23,532.41) scale(0.9500,1) skewY(0.03)" font-size="9.30" fill="#222" stroke="#222" stroke-width="0.12">2</text>
<text transform="translate(379.79,521.41) scale(0.9500,1) skewY(0.03)" font-size="9.30" fill="#222" stroke="#222" stroke-width="0.12">12.5%</text>
<text transform="translate(389.94,532.41) scale(0.9500,1) skewY(0.03)" font-size="9.30" fill="#222" stroke="#222" stroke-width="0.12">1</text>
<text transform="translate(413.59,521.41) scale(0.9500,1) skewY(0.03)" font-size="9.30" fill="#222" stroke="#222" stroke-width="0.12">12.5%</text>
<text transform="translate(423.74,532.41) scale(0.9500,1) skewY(0.03)" font-size="9.30" fill="#222" stroke="#222" stroke-width="0.12">1</text>
<text transform="translate(447.72,521.41) scale(0.9500,1) skewY(0.03)" font-size="9.30" fill="#222" stroke="#222" stroke-width="0.12">11.1%</text>
<text transform="translate(457.54,532.41) scale(0.9500,1) skewY(0.03)" font-size="9.30" fill="#222" stroke="#222" stroke-width="0.12">1</text>
<text transform="translate(487.51,521.41) scale(0.9500,1) skewY(0.03)" font-size="9.30" fill="#222" stroke="#222" stroke-width="0.12">0%</text>
<text transform="translate(491.47,532.41) scale(0.9500,1) skewY(0.03)" font-size="9.30" fill="#222" stroke="#222" stroke-width="0.12">0</text>
</svg>
<div class="frame"></div>
</body></html>
